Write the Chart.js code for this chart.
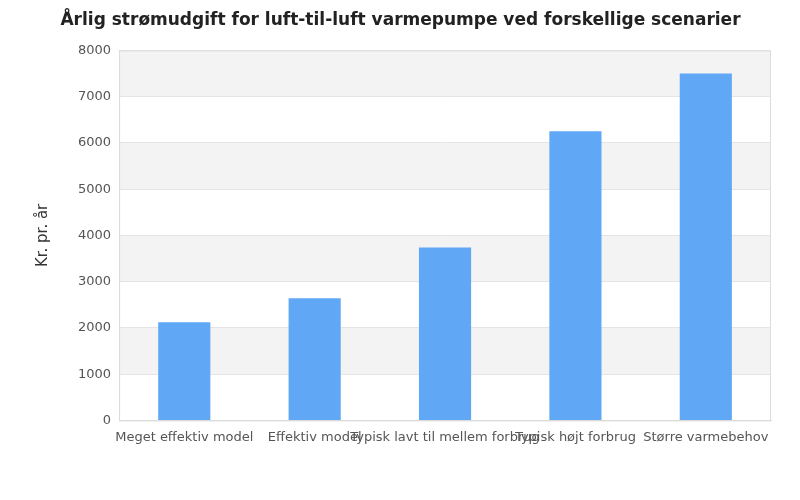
<!DOCTYPE html>
<html>
<head>
<meta charset="utf-8">
<script src="https://cdn.jsdelivr.net/npm/chart.js@4/dist/chart.umd.min.js"></script>
<style>
  html, body { margin: 0; padding: 0; background: #fff; }
  #wrap { width: 800px; height: 500px; }
</style>
</head>
<body>
<div id="wrap"><canvas id="c" width="800" height="500"></canvas></div>
<script>
const categories = ["Meget effektiv model", "Effektiv model", "Typisk lavt til mellem forbrug", "Typisk højt forbrug", "Større varmebehov"];
const values = [2120, 2640, 3740, 6250, 7500];
const titleText = "Årlig strømudgift for luft-til-luft varmepumpe ved forskellige scenarier";
const yTitle = "Kr. pr. år";

const bandPlugin = {
  id: 'bands',
  beforeDraw(chart) {
    const { ctx, chartArea: a, scales } = chart;
    const y = scales.y;
    ctx.save();
    ctx.fillStyle = '#f3f3f3';
    const ticks = y.ticks;
    for (let i = 0; i < ticks.length - 1; i++) {
      const lo = ticks[i].value, hi = ticks[i + 1].value;
      if (Math.round(lo / 1000) % 2 === 1) {
        const y1 = y.getPixelForValue(hi), y2 = y.getPixelForValue(lo);
        ctx.fillRect(a.left, y1, a.right - a.left, y2 - y1);
      }
    }
    ctx.restore();
  },
  beforeDatasetsDraw(chart) {
    const { ctx, chartArea: a } = chart;
    ctx.save();
    ctx.strokeStyle = '#dcdcdc';
    ctx.lineWidth = 1;
    ctx.strokeRect(a.left + 0.5, a.top + 0.5, a.right - a.left - 1, a.bottom - a.top);
    ctx.restore();
  }
};

new Chart(document.getElementById('c'), {
  type: 'bar',
  data: {
    labels: categories,
    datasets: [{
      data: values,
      backgroundColor: '#60a8f6',
      barPercentage: 0.4,
      categoryPercentage: 1.0
    }]
  },
  plugins: [bandPlugin],
  options: {
    responsive: false,
    animation: false,
    devicePixelRatio: 1,
    layout: { padding: { left: 30, right: 29, top: 0, bottom: 54 } },
    plugins: {
      legend: { display: false },
      tooltip: { enabled: false },
      title: {
        display: true,
        text: titleText,
        color: '#222',
        font: { family: 'DejaVu Sans', size: 17, weight: 'bold' },
        padding: { top: 10, bottom: 20 }
      }
    },
    scales: {
      x: {
        grid: { display: false },
        border: { display: true, color: '#dcdcdc' },
        ticks: {
          autoSkip: false,
          maxRotation: 0,
          minRotation: 0,
          color: '#555',
          font: { family: 'DejaVu Sans', size: 13 },
          padding: 1
        }
      },
      y: {
        min: 0,
        max: 8000,
        ticks: {
          stepSize: 1000,
          color: '#555',
          font: { family: 'DejaVu Sans', size: 13 },
          padding: 8,
          callback: (v) => String(v)
        },
        grid: { color: '#e4e4e4', drawTicks: false },
        border: { display: true, color: '#dcdcdc' },
        title: {
          display: true,
          text: yTitle,
          color: '#333',
          font: { family: 'DejaVu Sans', size: 15 },
          padding: { bottom: 18 }
        }
      }
    }
  }
});
</script>
</body>
</html>
